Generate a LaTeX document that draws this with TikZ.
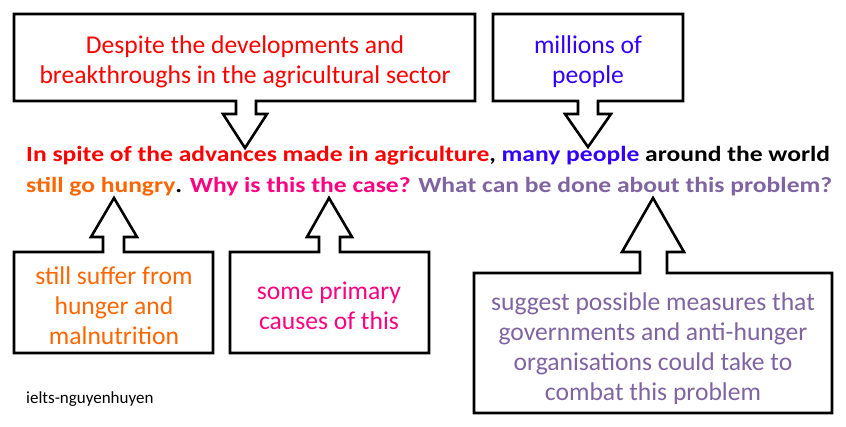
\documentclass[tikz,border=0pt]{standalone}
\usepackage{fontspec}
\setmainfont{Carlito}
\definecolor{cred}{HTML}{FF0000}
\definecolor{cblue}{HTML}{3300FF}
\definecolor{corange}{HTML}{FF6600}
\definecolor{cpink}{HTML}{FF0080}
\definecolor{cpurple}{HTML}{8064A2}
\tikzset{
  callout/.style={draw=black, line width=2.6pt, line join=miter, fill=white},
  boxtext/.style={align=center, inner sep=0pt, font=\fontsize{25.6}{30}\selectfont},
  mainline/.style={anchor=base west, inner sep=0pt, font=\fontsize{21.7}{26}\selectfont\bfseries},
}
\newcommand{\mystretch}[1]{\scalebox{1.178}[1]{#1}}
\begin{document}
\begin{tikzpicture}[x=1pt,y=-1pt]
\useasboundingbox (0,0) rectangle (846,427);
% callouts
\draw[callout] (14,14)--(475,14)--(475,101)--(256,101)--(256,114)--(267,114)--(245,148)--(223,114)--(236,114)--(236,101)--(14,101)--cycle;
\draw[callout] (493,14)--(683,14)--(683,101)--(598,101)--(598,114)--(611,114)--(588,147)--(565,114)--(578,114)--(578,101)--(493,101)--cycle;
\draw[callout] (14,252)--(103,252)--(103,237)--(91,237)--(114,198)--(137,237)--(124,237)--(124,252)--(213,252)--(213,353)--(14,353)--cycle;
\draw[callout] (230,252)--(319,252)--(319,237)--(307,237)--(329,198)--(352,237)--(340,237)--(340,252)--(429,252)--(429,353)--(230,353)--cycle;
\draw[callout] (474,273)--(640,273)--(640,252)--(622,252)--(653,198)--(684,252)--(667,252)--(667,273)--(832,273)--(832,413)--(474,413)--cycle;
% box texts
\node[boxtext, text=cred] (t1) at (245,62) {Despite the developments and\\breakthroughs in the agricultural sector};
\node[boxtext, text=cblue] (t2) at (588,62) {millions of\\people};
\node[boxtext, text=corange] (t3) at (114,306) {still suffer from\\hunger and\\malnutrition};
\node[boxtext, text=cpink] (t4) at (329,306) {some primary\\causes of this};
\node[boxtext, text=cpurple] (t5) at (653,349) {suggest possible measures that\\governments and anti-hunger\\organisations could take to\\combat this problem};
% main text
\node[mainline] (l1) at (26,162) {\mystretch{\textcolor{cred}{In spite of the advances made in agriculture}, \textcolor{cblue}{many people} around the world}};
\node[mainline] (l2) at (26,193) {\mystretch{\textcolor{corange}{still go hungry}. \textcolor{cpink}{Why is this the case?} \textcolor{cpurple}{What can be done about this problem?}}};
% watermark
\node[anchor=base west, inner sep=0pt, font=\fontsize{17}{20}\selectfont] (wm) at (26,403) {ielts-nguyenhuyen};
\end{tikzpicture}
\end{document}
